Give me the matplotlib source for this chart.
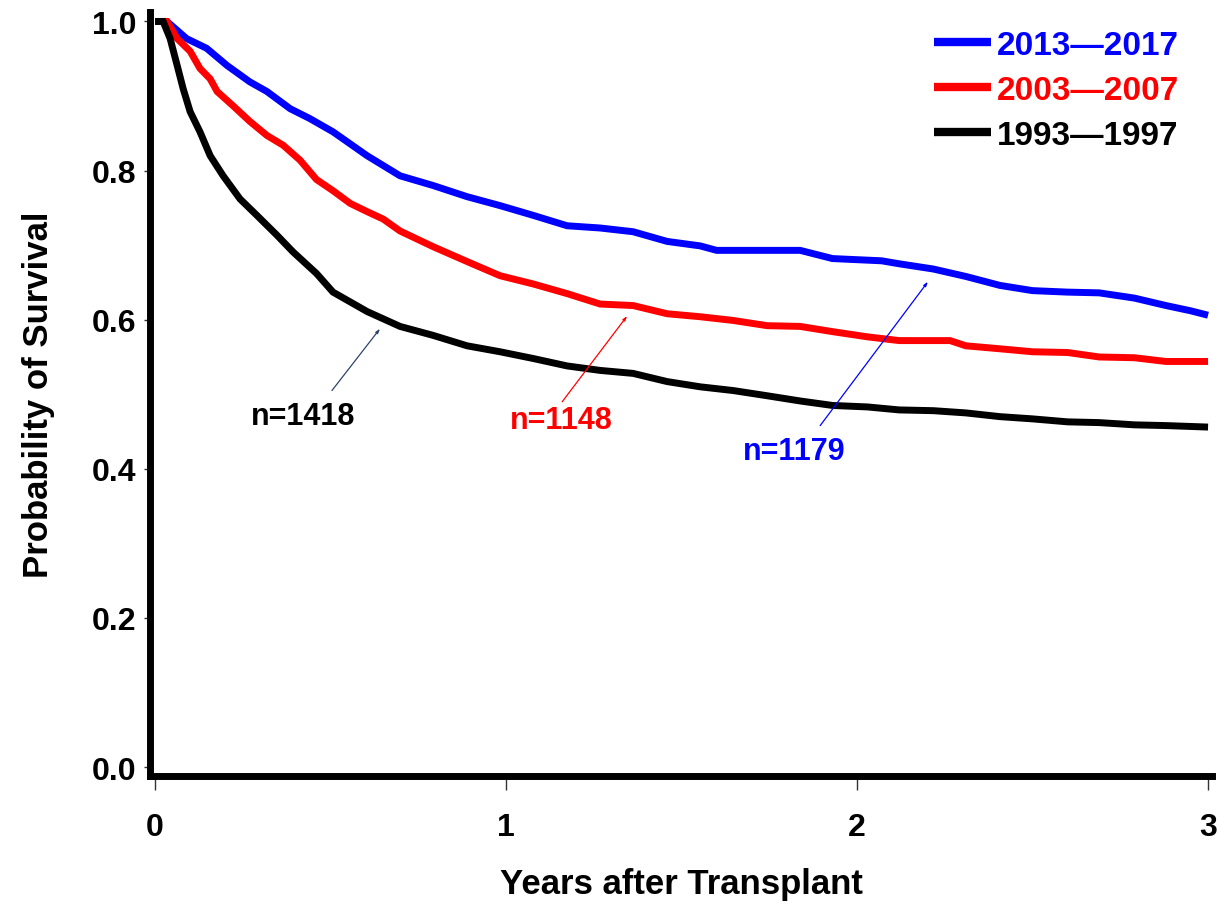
import matplotlib
matplotlib.use("Agg")
import matplotlib.pyplot as plt

# Kaplan-Meier survival estimates by transplant era (years after transplant)
t_2013 = [0, 0.034, 0.09, 0.147, 0.205, 0.27, 0.319, 0.385, 0.44, 0.507, 0.604,
          0.698, 0.792, 0.889, 0.983, 1.077, 1.174, 1.268, 1.362, 1.459, 1.553,
          1.60, 1.838, 1.93, 2.07, 2.12, 2.217, 2.31, 2.407, 2.50, 2.60, 2.69,
          2.79, 2.835, 2.88, 2.95, 3.0]
s_2013 = [1.0, 1.0, 0.977, 0.964, 0.941, 0.919, 0.906, 0.883, 0.870, 0.852, 0.820,
          0.793, 0.780, 0.765, 0.753, 0.740, 0.726, 0.723, 0.718, 0.705, 0.699,
          0.693, 0.693, 0.682, 0.679, 0.675, 0.668, 0.658, 0.646, 0.639, 0.637,
          0.636, 0.629, 0.624, 0.619, 0.612, 0.606]

t_2003 = [0, 0.034, 0.063, 0.10, 0.128, 0.157, 0.177, 0.222, 0.27, 0.319, 0.365,
          0.413, 0.46, 0.507, 0.556, 0.604, 0.65, 0.698, 0.792, 0.889, 0.983,
          1.077, 1.174, 1.268, 1.362, 1.459, 1.553, 1.647, 1.744, 1.838, 1.93,
          2.03, 2.12, 2.265, 2.31, 2.407, 2.50, 2.60, 2.69, 2.79, 2.88, 3.0]
s_2003 = [1.0, 1.0, 0.977, 0.960, 0.937, 0.923, 0.906, 0.887, 0.866, 0.847, 0.834,
          0.814, 0.788, 0.773, 0.756, 0.745, 0.735, 0.719, 0.698, 0.678, 0.659,
          0.648, 0.635, 0.621, 0.619, 0.608, 0.604, 0.599, 0.592, 0.591, 0.584,
          0.577, 0.572, 0.572, 0.565, 0.561, 0.557, 0.556, 0.550, 0.549, 0.544,
          0.544]

t_1993 = [0, 0.023, 0.043, 0.063, 0.08, 0.10, 0.128, 0.157, 0.194, 0.242, 0.29,
          0.348, 0.393, 0.46, 0.507, 0.604, 0.698, 0.792, 0.889, 0.983, 1.077,
          1.174, 1.268, 1.362, 1.459, 1.553, 1.647, 1.744, 1.838, 1.93, 2.03,
          2.12, 2.217, 2.31, 2.407, 2.50, 2.60, 2.69, 2.79, 2.88, 3.0]
s_1993 = [1.0, 1.0, 0.977, 0.941, 0.910, 0.879, 0.852, 0.820, 0.793, 0.762, 0.740,
          0.713, 0.691, 0.662, 0.637, 0.611, 0.591, 0.579, 0.565, 0.557, 0.548,
          0.538, 0.532, 0.528, 0.517, 0.510, 0.505, 0.498, 0.491, 0.485, 0.483,
          0.479, 0.478, 0.475, 0.470, 0.467, 0.463, 0.462, 0.459, 0.458, 0.456]

era_labels = ["2013\u20142017", "2003\u20142007", "1993\u20141997"]
era_colors = ["#0000ff", "#ff0000", "#000000"]
n_labels = ["n=1179", "n=1148", "n=1418"]

x_ticks = [0, 1, 2, 3]
y_ticks = [0.0, 0.2, 0.4, 0.6, 0.8, 1.0]

plt.rcParams["font.family"] = ["Liberation Sans", "DejaVu Sans"]

fig = plt.figure(figsize=(12.18, 9.12), dpi=100)
ax = fig.add_axes([0.1232, 0.148, 0.8718, 0.838])

series = [(t_2013, s_2013), (t_2003, s_2003), (t_1993, s_1993)]
handles = []
for (t, s), lab, col in zip(series, era_labels, era_colors):
    h, = ax.plot(t, s, color=col, lw=5, solid_joinstyle="miter",
                 solid_capstyle="butt", label=lab)
    handles.append(h)

ax.set_xlim(-0.0142, 3.011)
ax.set_ylim(-0.012, 1.013)
ax.set_xticks(x_ticks)
ax.set_xticklabels([str(v) for v in x_ticks])
ax.set_yticks(y_ticks)
ax.set_yticklabels([f"{v:.1f}" for v in y_ticks])

for side in ("top", "right"):
    ax.spines[side].set_visible(False)
for side in ("left", "bottom"):
    ax.spines[side].set_linewidth(5)
    ax.spines[side].set_color("black")

ax.tick_params(axis="x", direction="out", length=10, width=1, color="#333333",
               pad=16, labelsize=23)
ax.tick_params(axis="y", direction="out", length=4, width=1, color="#333333",
               pad=6, labelsize=23)
for lbl in ax.get_xticklabels() + ax.get_yticklabels():
    lbl.set_fontweight("bold")

ax.set_xlabel("Years after Transplant", fontsize=25, fontweight="bold", labelpad=18)
ax.set_ylabel("Probability of Survival", fontsize=25, fontweight="bold", labelpad=26)

leg = fig.legend(handles, era_labels, loc="upper right",
                 bbox_to_anchor=(0.968, 0.966), frameon=False,
                 fontsize=24, handlelength=1.7, handletextpad=0.18,
                 labelspacing=0.42, borderpad=0, borderaxespad=0)
for txt, col in zip(leg.get_texts(), era_colors):
    txt.set_color(col)
    txt.set_fontweight("bold")
for lh in leg.legend_handles:
    lh.set_linewidth(6)

# Sample-size callouts with thin leader lines
n_text_pos = [(1.821, 0.424), (1.157, 0.466), (0.422, 0.471)]
n_line_start = [(1.895, 0.458), (1.160, 0.490), (0.504, 0.505)]
n_line_end = [(2.202, 0.651), (1.345, 0.605), (0.641, 0.588)]
leader_colors = ["#0000ff", "#ff0000", "#2f4468"]
for lab, col, lcol, tp, p0, p1 in zip(n_labels, era_colors, leader_colors,
                                      n_text_pos, n_line_start, n_line_end):
    ax.text(tp[0], tp[1], lab, color=col, fontsize=22, fontweight="bold",
            ha="center", va="center")
    ax.annotate("", xy=p1, xytext=p0,
                arrowprops=dict(arrowstyle="-|>,head_length=0.25,head_width=0.08",
                                color=lcol, lw=0.9, shrinkA=0, shrinkB=0))

fig.savefig("out.png", dpi=100)
